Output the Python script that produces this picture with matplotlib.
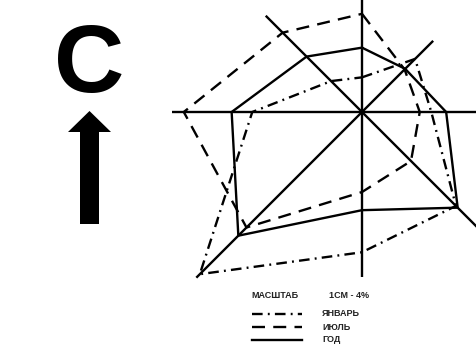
import numpy as np
import matplotlib.pyplot as plt
from matplotlib.lines import Line2D
from matplotlib.patches import FancyArrow

# wind rose, repeatability of winds in % by direction
directions = ['С', 'СВ', 'В', 'ЮВ', 'Ю', 'ЮЗ', 'З', 'СЗ']
january = [4.2, 9.1, 8.4, 16.1, 17.0, 27.8, 13.3, 5.3]
july = [11.9, 7.3, 7.0, 8.4, 9.7, 19.8, 21.6, 13.6]
year = [7.8, 7.4, 10.2, 16.4, 11.9, 21.2, 15.8, 9.5]
axis_len = [15, 12.2, 15, 20, 20, 28.4, 23, 16.5]
series_names = ['ЯНВАРЬ', 'ИЮЛЬ', 'ГОД']

plt.rcParams['font.family'] = ['Liberation Sans', 'DejaVu Sans']

W, H = 476, 359
fig = plt.figure(figsize=(W / 100, H / 100), dpi=100)

px = 8.25   # pixels per 1 %
rmax = 30
R = rmax * px
cx, cy = 362, 112
ax = fig.add_axes([(cx - R) / W, (H - cy - R) / H, 2 * R / W, 2 * R / H],
                  projection='polar')
ax.set_theta_zero_location('N')
ax.set_theta_direction(-1)
ax.set_ylim(0, rmax)
ax.axis('off')

theta = np.deg2rad(np.arange(len(directions)) * 45)
for t, L in zip(theta, axis_len):
    ax.plot([t, t], [0, L], color='black', lw=1.7, clip_on=False,
            solid_capstyle='butt')

styles = [(0, (4.5, 2.2, 0.8, 2.2)), (0, (5.5, 3.5)), '-']
th = np.append(theta, theta[0])
for vals, ls in zip([january, july, year], styles):
    ax.plot(th, vals + [vals[0]], color='black', lw=1.7, linestyle=ls,
            clip_on=False)

# north sign
fig.text(89 / W, 1 - 67 / H, 'С', fontsize=70, fontweight='bold',
         ha='center', va='center')
fig.add_artist(FancyArrow(0.895, (H - 224) / 100, 0, (224 - 111) / 100,
                          width=0.19, head_width=0.43, head_length=0.21,
                          length_includes_head=True, color='black', lw=0,
                          transform=fig.dpi_scale_trans))

# legend
fig.text(251 / W, 1 - 295 / H, 'МАСШТАБ', fontsize=6.5, fontweight='bold',
         va='center', color='#222222')
fig.text(329 / W, 1 - 295 / H, '1СМ - 4%', fontsize=6.5, fontweight='bold',
         va='center', color='#222222')
for i, (name, ls) in enumerate(zip(series_names, styles)):
    y = 1 - (314 + 13 * i) / H
    fig.add_artist(Line2D([252 / W, 302 / W], [y, y], color='black', lw=1.7,
                          linestyle=ls, transform=fig.transFigure))
    fig.text(322 / W, y, name, fontsize=6.5, fontweight='bold', va='center',
             color='#222222')

plt.savefig('out.png', dpi=100)
